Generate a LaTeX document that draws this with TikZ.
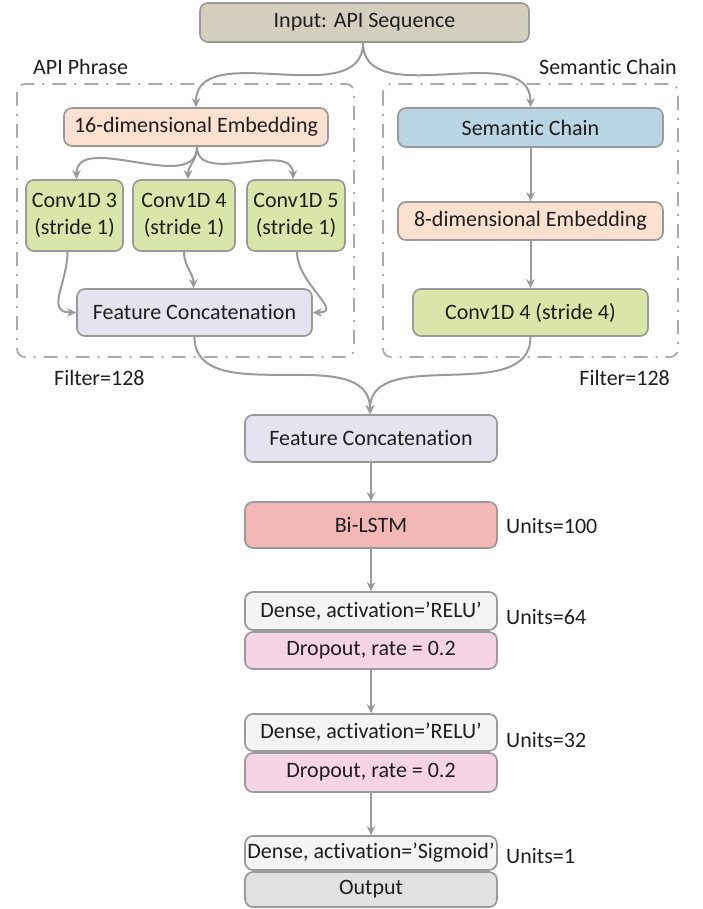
\documentclass[tikz,border=0pt]{standalone}
\usepackage{fontspec}
\setmainfont{Carlito}[Ligatures=NoCommon]
\usetikzlibrary{arrows.meta}

\definecolor{boxline}{HTML}{9A9A9A}
\definecolor{linec}{HTML}{9A9A9A}
\definecolor{groupline}{HTML}{ABABAB}
\definecolor{inputfill}{HTML}{D4CEBF}
\definecolor{embfill}{HTML}{FCE1D0}
\definecolor{semfill}{HTML}{B9D5E4}
\definecolor{convfill}{HTML}{D9E5A9}
\definecolor{concatfill}{HTML}{E4E3EF}
\definecolor{lstmfill}{HTML}{F3B8B6}
\definecolor{densefill}{HTML}{F4F4F4}
\definecolor{dropfill}{HTML}{F7D3E6}
\definecolor{outfill}{HTML}{E1E1E1}
\definecolor{ink}{HTML}{1E1E1E}

\begin{document}
\begin{tikzpicture}[x=1pt,y=1pt,
  box/.style={draw=boxline,line width=1.7pt,rounded corners=8pt,inner sep=0pt,
    align=center,text=ink,font=\fontsize{22}{27}\selectfont},
  lbl/.style={inner sep=0pt,text=ink,font=\fontsize{22}{26}\selectfont},
  conn/.style={draw=linec,line width=2pt,-{Stealth[length=9pt,width=8.5pt]}},
  group/.style={draw=groupline,line width=1.8pt,rounded corners=8pt,
    dash pattern=on 14pt off 8pt on 2pt off 8pt}]

\useasboundingbox (0,0) rectangle (702,-909);

% group frames
\draw[group] (17,-84) rectangle (354,-357);
\draw[group] (383,-84) rectangle (678,-357);
\node[lbl,anchor=west] (lblA) at (33,-67) {API Phrase};
\node[lbl,anchor=east] (lblS) at (677,-67) {Semantic Chain};
\node[lbl,anchor=west] (filtA) at (54,-378) {Filter=128};
\node[lbl,anchor=east] (filtS) at (670,-378) {Filter=128};

% input
\node[box,fill=inputfill,minimum width=329pt,minimum height=39pt] (inp) at (364.5,-22.5) {Input: API Sequence};

% API phrase branch
\node[box,fill=embfill,minimum width=264pt,minimum height=38pt] (emb16) at (196,-127) {16-dimensional Embedding};
\node[box,fill=convfill,minimum width=97pt,minimum height=71pt] (c3) at (74.5,-215.5) {Conv1D 3\\(stride 1)};
\node[box,fill=convfill,minimum width=102pt,minimum height=71pt] (c4) at (184,-215.5) {Conv1D 4\\(stride 1)};
\node[box,fill=convfill,minimum width=98pt,minimum height=71pt] (c5) at (296,-215.5) {Conv1D 5\\(stride 1)};
\node[box,fill=concatfill,minimum width=235pt,minimum height=47pt] (fc1) at (194.5,-312.5) {Feature Concatenation};

% semantic chain branch
\node[box,fill=semfill,minimum width=265pt,minimum height=39pt] (sem) at (530.5,-127.5) {Semantic Chain};
\node[box,fill=embfill,minimum width=265pt,minimum height=38pt] (emb8) at (530.5,-221) {8-dimensional Embedding};
\node[box,fill=convfill,minimum width=235pt,minimum height=47pt] (cs) at (530.5,-312.5) {Conv1D 4 (stride 4)};

% main stack
\node[box,fill=concatfill,minimum width=252pt,minimum height=47pt] (fc2) at (371,-438.5) {Feature Concatenation};
\node[box,fill=lstmfill,minimum width=252pt,minimum height=46pt] (lstm) at (371,-525) {Bi-LSTM};
\node[box,fill=densefill,minimum width=252pt,minimum height=38pt] (d1) at (371,-611) {Dense, activation=’RELU’};
\node[box,fill=dropfill,minimum width=252pt,minimum height=37pt] (do1) at (371,-650.5) {Dropout, rate = 0.2};
\node[box,fill=densefill,minimum width=252pt,minimum height=37pt] (d2) at (371,-732.5) {Dense, activation=’RELU’};
\node[box,fill=dropfill,minimum width=252pt,minimum height=39pt] (do2) at (371,-772.5) {Dropout, rate = 0.2};
\node[box,fill=densefill,minimum width=252pt,minimum height=34pt] (d3) at (371,-853) {Dense, activation=’Sigmoid’};
\node[box,fill=outfill,minimum width=252pt,minimum height=35pt] (out) at (371,-889.5) {Output};

\node[lbl,anchor=west] (u100) at (506,-526) {Units=100};
\node[lbl,anchor=west] (u64) at (506,-617) {Units=64};
\node[lbl,anchor=west] (u32) at (506,-740) {Units=32};
\node[lbl,anchor=west] (u1) at (506,-856) {Units=1};

% connectors
\draw[conn] ([xshift=-1.5pt]inp.south) to[out=-90,in=90] (emb16.north);
\draw[conn] ([xshift=-1.5pt]inp.south) to[out=-90,in=90] (sem.north);
\draw[conn] ([xshift=1pt]emb16.south) to[out=-90,in=90] ([xshift=2pt]c3.north);
\draw[conn] ([xshift=1pt]emb16.south) to[out=-90,in=90] ([xshift=4pt]c4.north);
\draw[conn] ([xshift=1pt]emb16.south) to[out=-90,in=90] ([xshift=-3pt]c5.north);
\draw[conn] ([xshift=-7pt]c3.south) to[out=-90,in=180,looseness=1.3] (fc1.west);
\draw[conn] (c4.south) to[out=-90,in=90] ([xshift=-1pt]fc1.north);
\draw[conn] ([xshift=1pt]c5.south) to[out=-90,in=0,looseness=1.3] (fc1.east);
\draw[conn] (sem) -- (emb8);
\draw[conn] (emb8) -- (cs);
\draw[conn] (fc1.south) to[out=-90,in=90] ([xshift=-1pt]fc2.north);
\draw[conn] (cs.south) to[out=-90,in=90] ([xshift=-1pt]fc2.north);
\draw[conn] (fc2) -- (lstm);
\draw[conn] (lstm) -- (d1);
\draw[conn] (do1) -- (d2);
\draw[conn] (do2) -- (d3);
\end{tikzpicture}
\end{document}
